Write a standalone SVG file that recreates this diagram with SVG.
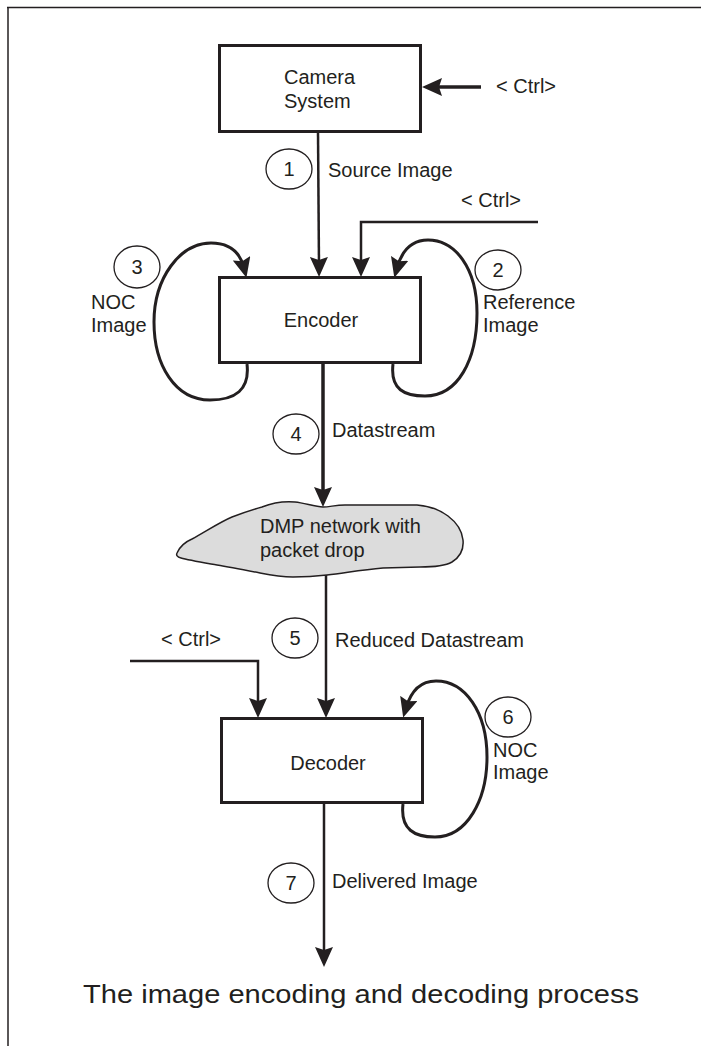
<svg xmlns="http://www.w3.org/2000/svg" width="701" height="1046" viewBox="0 0 701 1046">
<style>
.box{fill:#fff;stroke:#231f20;stroke-width:3}
.t{font-family:"Liberation Sans",Arial,sans-serif;font-size:20px;fill:#231f20}
.num{font-family:"Liberation Sans",Arial,sans-serif;font-size:20px;fill:#231f20;text-anchor:middle}
.circ{fill:#fff;stroke:#231f20;stroke-width:1.3}
.ln{fill:none;stroke:#231f20;stroke-width:2.5}
.thick{fill:none;stroke:#231f20;stroke-width:3.5}
.loop{fill:none;stroke:#231f20;stroke-width:3}
</style>
<defs>
<marker id="ah" viewBox="0 0 20 18" refX="10" refY="9" markerWidth="20" markerHeight="18" markerUnits="userSpaceOnUse" orient="auto">
<path d="M0,0 L20,9 L0,18 L3,9 Z" fill="#231f20"/>
</marker>
</defs>
<g id="frame">
<line x1="7" y1="7.5" x2="701" y2="7.5" stroke="#231f20" stroke-width="1.5"/>
<line x1="8" y1="7" x2="8" y2="1046" stroke="#231f20" stroke-width="1.5"/>
</g>
<g id="connectors">
<line class="ln" x1="318" y1="132" x2="319" y2="267" marker-end="url(#ah)"/>
<line class="thick" x1="481" y1="87" x2="432" y2="87" marker-end="url(#ah)"/>
<polyline class="ln" points="538,222 361,222 361,267" marker-end="url(#ah)"/>
<path class="loop" d="M247,364 C250,390 235,400 210,400 C175,400 154,365 154,322 C154,278 180,243 211,243 C229,243 240,252 244,268" marker-end="url(#ah)"/>
<path class="loop" d="M393,364 C390,390 405,396 425,396 C458,396 477,360 477,313 C477,268 455,240 428,240 C412,240 402,250 397,268" marker-end="url(#ah)"/>
<line class="thick" x1="323" y1="364" x2="323" y2="497" marker-end="url(#ah)"/>
<line class="ln" x1="326" y1="575" x2="326" y2="708" marker-end="url(#ah)"/>
<polyline class="ln" points="130,661 258,661 258,708" marker-end="url(#ah)"/>
<path class="loop" d="M403,804 C400,830 415,837 435,837 C467,837 487,800 487,757 C487,712 465,681 436,681 C421,681 411,691 406,708" marker-end="url(#ah)"/>
<line class="ln" x1="324" y1="804" x2="324" y2="957" marker-end="url(#ah)"/>
</g>
<g id="camera">
<rect class="box" x="219.5" y="45.5" width="201" height="86"/>
<text class="t" x="284" y="84">Camera</text>
<text class="t" x="284" y="108">System</text>
</g>
<g id="ctrl-camera"><text class="t" x="496" y="93">&lt; Ctrl&gt;</text></g>
<g id="label-1">
<ellipse class="circ" cx="289" cy="169" rx="23" ry="20"/>
<text class="num" x="289" y="176">1</text>
<text class="t" x="328" y="177">Source Image</text>
</g>
<g id="ctrl-encoder"><text class="t" x="461" y="207">&lt; Ctrl&gt;</text></g>
<g id="encoder">
<rect class="box" x="219.5" y="277.5" width="201" height="85"/>
<text class="t" x="321" y="327" text-anchor="middle">Encoder</text>
</g>
<g id="label-3">
<ellipse class="circ" cx="137" cy="267" rx="23" ry="21"/>
<text class="num" x="137" y="274">3</text>
<text class="t" x="91" y="309">NOC</text>
<text class="t" x="91" y="332">Image</text>
</g>
<g id="label-2">
<ellipse class="circ" cx="498" cy="270" rx="23" ry="20"/>
<text class="num" x="498" y="277">2</text>
<text class="t" x="483" y="309">Reference</text>
<text class="t" x="483" y="332">Image</text>
</g>
<g id="label-4">
<ellipse class="circ" cx="296" cy="434" rx="23" ry="20"/>
<text class="num" x="296" y="441">4</text>
<text class="t" x="332" y="437">Datastream</text>
</g>
<g id="network">
<path d="M177,553 C180,546 185,542 192,539 C205,532 220,522 232,517 C245,512 255,509 262,507 C272,503 283,501 295,502 C305,503 315,507 323,507 C330,507 335,505 345,505 L417,505 C430,506 440,510 448,516 C456,522 462,530 463,540 C464,550 460,557 452,562 C445,566 435,567 420,567 L383,568 C360,570 345,573 327,575 C310,577 300,577 293,577 C282,577 270,575 260,573 C245,570 230,567 217,565 C200,562 188,560 181,558 C177,557 176,555 177,553 Z" fill="#dcdcdc" stroke="#231f20" stroke-width="1.5"/>
<text class="t" x="260" y="533">DMP network with</text>
<text class="t" x="260" y="557">packet drop</text>
</g>
<g id="label-5">
<ellipse class="circ" cx="295" cy="638" rx="23" ry="20"/>
<text class="num" x="295" y="645">5</text>
<text class="t" x="335" y="647">Reduced Datastream</text>
</g>
<g id="ctrl-decoder"><text class="t" x="161" y="646">&lt; Ctrl&gt;</text></g>
<g id="decoder">
<rect class="box" x="221.5" y="718.5" width="201" height="84"/>
<text class="t" x="328" y="770" text-anchor="middle">Decoder</text>
</g>
<g id="label-6">
<ellipse class="circ" cx="508" cy="717" rx="23" ry="20"/>
<text class="num" x="508" y="724">6</text>
<text class="t" x="493" y="757">NOC</text>
<text class="t" x="493" y="779">Image</text>
</g>
<g id="label-7">
<ellipse class="circ" cx="291" cy="883" rx="23" ry="20"/>
<text class="num" x="291" y="890">7</text>
<text class="t" x="332" y="888">Delivered Image</text>
</g>
<g id="caption">
<text x="83" y="1003" font-family="Liberation Sans, Arial, sans-serif" font-size="26.5" fill="#231f20" textLength="556" lengthAdjust="spacingAndGlyphs">The image encoding and decoding process</text>
</g>
</svg>
